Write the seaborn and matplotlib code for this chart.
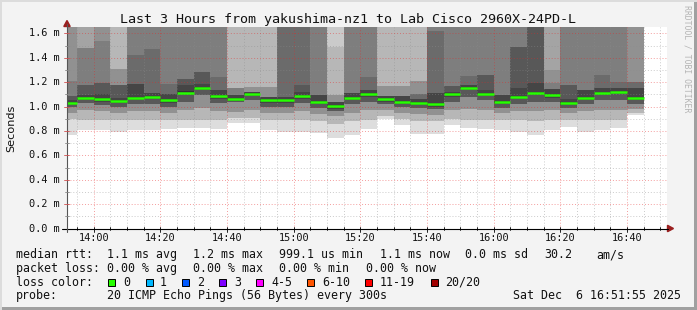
import numpy as np
import pandas as pd
import matplotlib
matplotlib.use("Agg")
import matplotlib.pyplot as plt
import seaborn as sns
from matplotlib.lines import Line2D
from matplotlib.patches import Rectangle, Polygon

# ---------------- data ----------------
# end time of each 5-minute bin (rrd step 300s)
bin_end = ["13:55", "14:00", "14:05", "14:10", "14:15", "14:20", "14:25", "14:30",
           "14:35", "14:40", "14:45", "14:50", "14:55", "15:00", "15:05", "15:10",
           "15:15", "15:20", "15:25", "15:30", "15:35", "15:40", "15:45", "15:50",
           "15:55", "16:00", "16:05", "16:10", "16:15", "16:20", "16:25", "16:30",
           "16:35", "16:40", "16:45"]

# median rtt (ms) per bin
median_ms = [1.031, 1.070, 1.061, 1.048, 1.070, 1.078, 1.053, 1.113, 1.152, 1.086,
             1.061, 1.105, 1.053, 1.053, 1.086, 1.039, 1.004, 1.070, 1.102, 1.061,
             1.039, 1.031, 1.020, 1.102, 1.152, 1.105, 1.039, 1.078, 1.113, 1.094,
             1.031, 1.070, 1.113, 1.121, 1.070]

# 20 sorted ping rtts (ms) per bin (values above the chart top written as 1.9)
pings_sorted = [
    [0.766, 0.90, 0.90, 0.95, 0.95, 0.998, 0.998, 0.998, 1.011, 1.023, 1.039, 1.05, 1.086, 1.086, 1.209, 1.9, 1.9, 1.9, 1.9, 1.9],
    [0.807, 0.89, 0.89, 0.97, 0.97, 1.026, 1.026, 1.026, 1.05, 1.062, 1.078, 1.094, 1.176, 1.176, 1.482, 1.482, 1.9, 1.9, 1.9, 1.9],
    [0.807, 0.89, 0.89, 0.96, 0.96, 1.01, 1.01, 1.01, 1.041, 1.053, 1.069, 1.10, 1.195, 1.195, 1.537, 1.9, 1.9, 1.9, 1.9, 1.9],
    [0.793, 0.89, 0.89, 0.95, 0.95, 1.0, 1.0, 1.0, 1.028, 1.040, 1.056, 1.07, 1.176, 1.176, 1.176, 1.307, 1.307, 1.9, 1.9, 1.9],
    [0.807, 0.89, 0.89, 0.96, 0.96, 1.02, 1.02, 1.02, 1.05, 1.062, 1.078, 1.184, 1.184, 1.422, 1.9, 1.9, 1.9, 1.9, 1.9, 1.9],
    [0.807, 0.89, 0.89, 0.96, 0.96, 1.02, 1.02, 1.02, 1.058, 1.070, 1.086, 1.113, 1.113, 1.471, 1.9, 1.9, 1.9, 1.9, 1.9, 1.9],
    [0.816, 0.89, 0.89, 0.95, 0.95, 1.0, 1.0, 1.0, 1.033, 1.045, 1.061, 1.10, 1.10, 1.184, 1.9, 1.9, 1.9, 1.9, 1.9, 1.9],
    [0.824, 0.89, 0.89, 0.97, 0.97, 1.04, 1.04, 1.04, 1.093, 1.105, 1.127, 1.174, 1.223, 1.223, 1.9, 1.9, 1.9, 1.9, 1.9, 1.9],
    [0.824, 0.889, 0.889, 0.985, 0.985, 1.094, 1.094, 1.094, 1.132, 1.144, 1.162, 1.184, 1.285, 1.285, 1.9, 1.9, 1.9, 1.9, 1.9, 1.9],
    [0.816, 0.89, 0.89, 0.96, 0.96, 1.03, 1.03, 1.03, 1.066, 1.078, 1.094, 1.135, 1.135, 1.244, 1.9, 1.9, 1.9, 1.9, 1.9, 1.9],
    [0.867, 0.903, 0.903, 0.957, 0.957, 1.039, 1.039, 1.039, 1.045, 1.053, 1.069, 1.094, 1.094, 1.094, 1.149, 1.149, 1.149, 1.9, 1.9, 1.9],
    [0.867, 0.905, 0.905, 0.97, 0.97, 1.05, 1.05, 1.05, 1.085, 1.097, 1.113, 1.121, 1.121, 1.121, 1.121, 1.162, 1.162, 1.9, 1.9, 1.9],
    [0.807, 0.89, 0.89, 0.95, 0.95, 1.0, 1.0, 1.0, 1.033, 1.045, 1.061, 1.08, 1.08, 1.08, 1.08, 1.162, 1.162, 1.9, 1.9, 1.9],
    [0.793, 0.89, 0.89, 0.95, 0.95, 1.0, 1.0, 1.0, 1.033, 1.045, 1.061, 1.08, 1.08, 1.9, 1.9, 1.9, 1.9, 1.9, 1.9, 1.9],
    [0.793, 0.89, 0.89, 0.96, 0.96, 1.03, 1.03, 1.03, 1.066, 1.078, 1.094, 1.121, 1.176, 1.9, 1.9, 1.9, 1.9, 1.9, 1.9, 1.9],
    [0.783, 0.88, 0.88, 0.94, 0.94, 0.99, 0.99, 0.99, 1.019, 1.031, 1.047, 1.094, 1.094, 1.094, 1.9, 1.9, 1.9, 1.9, 1.9, 1.9],
    [0.742, 0.86, 0.86, 0.92, 0.92, 0.96, 0.96, 0.96, 0.984, 0.996, 1.012, 1.039, 1.039, 1.039, 1.039, 1.094, 1.094, 1.49, 1.9, 1.9],
    [0.766, 0.88, 0.88, 0.95, 0.95, 1.02, 1.02, 1.02, 1.05, 1.062, 1.078, 1.113, 1.113, 1.113, 1.9, 1.9, 1.9, 1.9, 1.9, 1.9],
    [0.816, 0.89, 0.89, 0.97, 0.97, 1.04, 1.04, 1.04, 1.082, 1.094, 1.11, 1.135, 1.135, 1.244, 1.9, 1.9, 1.9, 1.9, 1.9, 1.9],
    [0.900, 0.92, 0.92, 0.97, 0.97, 1.02, 1.02, 1.02, 1.041, 1.053, 1.069, 1.086, 1.086, 1.086, 1.086, 1.168, 1.168, 1.9, 1.9, 1.9],
    [0.848, 0.90, 0.90, 0.95, 0.95, 1.0, 1.0, 1.0, 1.019, 1.031, 1.047, 1.086, 1.086, 1.086, 1.086, 1.168, 1.168, 1.9, 1.9, 1.9],
    [0.775, 0.88, 0.88, 0.94, 0.94, 0.99, 0.99, 0.99, 1.011, 1.023, 1.039, 1.06, 1.06, 1.10, 1.10, 1.209, 1.209, 1.9, 1.9, 1.9],
    [0.775, 0.88, 0.88, 0.93, 0.93, 0.98, 0.98, 0.98, 1.0, 1.012, 1.028, 1.113, 1.113, 1.62, 1.9, 1.9, 1.9, 1.9, 1.9, 1.9],
    [0.851, 0.90, 0.90, 0.97, 0.97, 1.04, 1.04, 1.04, 1.082, 1.094, 1.11, 1.12, 1.168, 1.168, 1.9, 1.9, 1.9, 1.9, 1.9, 1.9],
    [0.826, 0.89, 0.89, 0.98, 0.98, 1.08, 1.08, 1.08, 1.132, 1.144, 1.16, 1.18, 1.18, 1.25, 1.9, 1.9, 1.9, 1.9, 1.9, 1.9],
    [0.816, 0.89, 0.89, 0.97, 0.97, 1.05, 1.05, 1.05, 1.085, 1.097, 1.113, 1.135, 1.258, 1.258, 1.9, 1.9, 1.9, 1.9, 1.9, 1.9],
    [0.807, 0.89, 0.89, 0.95, 0.95, 0.99, 0.99, 0.99, 1.019, 1.031, 1.047, 1.094, 1.094, 1.094, 1.9, 1.9, 1.9, 1.9, 1.9, 1.9],
    [0.793, 0.89, 0.89, 0.96, 0.96, 1.02, 1.02, 1.02, 1.058, 1.070, 1.086, 1.149, 1.49, 1.49, 1.9, 1.9, 1.9, 1.9, 1.9, 1.9],
    [0.766, 0.88, 0.88, 0.96, 0.96, 1.04, 1.04, 1.04, 1.093, 1.105, 1.121, 1.19, 1.9, 1.9, 1.9, 1.9, 1.9, 1.9, 1.9, 1.9],
    [0.807, 0.89, 0.89, 0.97, 0.97, 1.04, 1.04, 1.04, 1.074, 1.086, 1.102, 1.14, 1.14, 1.14, 1.19, 1.299, 1.9, 1.9, 1.9, 1.9],
    [0.830, 0.89, 0.89, 0.95, 0.95, 0.99, 0.99, 0.99, 1.011, 1.023, 1.039, 1.06, 1.176, 1.176, 1.9, 1.9, 1.9, 1.9, 1.9, 1.9],
    [0.793, 0.89, 0.89, 0.96, 0.96, 1.02, 1.02, 1.02, 1.05, 1.062, 1.078, 1.135, 1.135, 1.135, 1.9, 1.9, 1.9, 1.9, 1.9, 1.9],
    [0.807, 0.89, 0.89, 0.97, 0.97, 1.05, 1.05, 1.05, 1.093, 1.105, 1.121, 1.149, 1.149, 1.258, 1.9, 1.9, 1.9, 1.9, 1.9, 1.9],
    [0.824, 0.89, 0.89, 0.97, 0.97, 1.05, 1.05, 1.05, 1.101, 1.113, 1.129, 1.15, 1.15, 1.203, 1.9, 1.9, 1.9, 1.9, 1.9, 1.9],
    [0.930, 0.95, 0.95, 0.98, 0.98, 1.02, 1.02, 1.02, 1.05, 1.062, 1.078, 1.149, 1.149, 1.203, 1.203, 1.9, 1.9, 1.9, 1.9, 1.9],
]

x_tick_labels = ["14:00", "14:20", "14:40", "15:00", "15:20", "15:40", "16:00", "16:20", "16:40"]
y_tick_values = [0.0, 0.2, 0.4, 0.6, 0.8, 1.0, 1.2, 1.4, 1.6]

loss_labels = ["0", "1", "2", "3", "4-5", "6-10", "11-19", "20/20"]
loss_colors = ["#26ff00", "#00b8ff", "#0059ff", "#7e00ff", "#ff00ff", "#ff5500", "#ff0000", "#a10000"]

title = "Last 3 Hours from yakushima-nz1 to Lab Cisco 2960X-24PD-L"
stat_rtt = ["median rtt:", "1.1 ms avg", "1.2 ms max", "999.1 us min", "1.1 ms now", "0.0 ms sd", "30.2", "am/s"]
stat_loss = ["packet loss:", "0.00 % avg", "0.00 % max", "0.00 % min", "0.00 % now"]
probe_text = ["probe:", "20 ICMP Echo Pings (56 Bytes) every 300s", "Sat Dec  6 16:51:55 2025"]

# ---------------- layout helpers ----------------
W, H = 697, 310
def fx(x):
    return x / W
def fy(y):
    return 1 - y / H

def to_min(s):
    h, m = map(int, s.split(":"))
    return (h - 14) * 60 + m

X0, X1 = -8, 172          # 13:52 .. 16:52 in minutes from 14:00
Y0, Y1 = 0.0, 1.65
PL, PR, PB, PT = 67, 667, 228.5, 27.3
def px_x(t):
    return PL + (t - X0) * (PR - PL) / (X1 - X0)
def px_y(v):
    return PB - (v - Y0) * (PB - PT) / (Y1 - Y0)

MONO = "DejaVu Sans Mono"

sns.set_style("white")
plt.rcParams["font.family"] = ["DejaVu Sans"]

fig = plt.figure(figsize=(W / 100, H / 100), dpi=100, facecolor="#f3f3f3")
ax = fig.add_axes([fx(PL), 1 - PB / H, (PR - PL) / W, (PB - PT) / H])
ax.set_facecolor("white")
ax.set_xlim(X0, X1)
ax.set_ylim(Y0, Y1)

# ---------------- smoke ----------------
ends = np.array([to_min(s) for s in bin_end], dtype=float)
starts = ends - 5
P = np.array(pings_sorted)
n = P.shape[1]
half = n // 2
for i in range(1, half + 1):
    g = int(190 / half * (half - i)) + 50
    col = "#%02x%02x%02x" % (g, g, g)
    lo = P[:, i - 1]
    hi = P[:, n - i]
    ax.bar(starts, hi - lo, bottom=lo, width=5, align="edge", color=col,
           linewidth=0, zorder=1)

# ---------------- grid ----------------
for t in np.arange(-5, X1, 5):
    if t % 20 == 0:
        continue
    ax.axvline(t, color=(0.55, 0.55, 0.55, 0.45), lw=0.7, ls=(0, (1, 2)), zorder=3)
for v in np.arange(0.1, 1.65, 0.2):
    ax.axhline(v, color=(0.55, 0.55, 0.55, 0.45), lw=0.7, ls=(0, (1, 2)), zorder=3)
for t in range(0, 161, 20):
    ax.axvline(t, color=(0.9, 0.15, 0.15, 0.45), lw=0.7, ls=(0, (1, 2)), zorder=3)
for v in y_tick_values[1:]:
    ax.axhline(v, color=(0.9, 0.15, 0.15, 0.45), lw=0.7, ls=(0, (1, 2)), zorder=3)

# ---------------- median line ----------------
rows = []
for k, (s, e, m) in enumerate(zip(starts, ends, median_ms)):
    rows.append({"seg": k, "t": s, "v": m})
    rows.append({"seg": k, "t": e, "v": m})
mdf = pd.DataFrame(rows)
sns.lineplot(data=mdf, x="t", y="v", units="seg", estimator=None, color="#26ff00",
             lw=1.8, ax=ax, legend=False, zorder=5, solid_capstyle="butt")

ax.set_xlabel("")
ax.set_ylabel("")
ax.set_xticks([])
ax.set_yticks([])
for sp in ax.spines.values():
    sp.set_visible(False)

# ---------------- axes lines, ticks, arrows ----------------
fig.add_artist(Line2D([fx(62), fx(668)], [fy(PB), fy(PB)], color="black", lw=0.8))
fig.add_artist(Line2D([fx(PL), fx(PL)], [fy(232), fy(24)], color="#555555", lw=0.8))
fig.add_artist(Polygon([[fx(673.5), fy(PB)], [fx(667.5), fy(PB - 3.2)], [fx(667.5), fy(PB + 3.2)]],
                       closed=True, color="#9a1f1f"))
fig.add_artist(Polygon([[fx(PL), fy(20.5)], [fx(PL - 3.2), fy(26.5)], [fx(PL + 3.2), fy(26.5)]],
                       closed=True, color="#9a1f1f"))

for t in np.arange(-5, X1, 5):
    x = px_x(t)
    L = 3 if t % 20 == 0 else 1.8
    fig.add_artist(Line2D([fx(x), fx(x)], [fy(PB - 1.5), fy(PB + L)], color="black", lw=0.6))
for v in np.arange(0.1, 1.65, 0.1):
    y = px_y(v)
    major = abs((v * 10) % 2) < 1e-6 or abs((v * 10) % 2 - 2) < 1e-6
    L = 3 if major else 1.8
    col = "#d05050" if major else "#888888"
    fig.add_artist(Line2D([fx(PL - L), fx(PL + 2)], [fy(y), fy(y)], color=col, lw=0.6))

# tick labels
for lab in x_tick_labels:
    t = to_min(lab)
    fig.text(fx(px_x(t)), fy(241), lab, family=MONO, fontsize=7.4, ha="center",
             va="baseline", color="#111111")
for v in y_tick_values:
    fig.text(fx(60), fy(px_y(v)), f"{v:.1f} m", family=MONO, fontsize=7.4, ha="right",
             va="center", color="#111111")

fig.text(fx(11), fy(128), "Seconds", fontsize=8.1, rotation=90, ha="center", va="center",
         color="#111111")
fig.text(fx(348), fy(23), title, family=MONO, fontsize=9.6, ha="center", va="baseline",
         color="#111111")
fig.text(fx(687), fy(5), "RRDTOOL / TOBI OETIKER", family=MONO, fontsize=5.9,
         rotation=-90, ha="center", va="top", color="#b4b4b4")

# ---------------- legend block ----------------
LFS = 8.4
for s, x in zip(stat_rtt, [16, 107, 193, 279, 380, 465, 544, 596]):
    fig.text(fx(x), fy(258.3), s, family=MONO, fontsize=LFS, ha="left", va="baseline", color="#111111")
for s, x in zip(stat_loss, [16, 107, 193, 279, 366]):
    fig.text(fx(x), fy(272), s, family=MONO, fontsize=LFS, ha="left", va="baseline", color="#111111")
fig.text(fx(16), fy(285.8), "loss color:", family=MONO, fontsize=LFS, ha="left", va="baseline", color="#111111")
sq_x = [108, 146, 182, 219, 256, 307, 365, 431]
lab_x = [123, 160, 197, 234, 271, 322, 380, 445]
for lab, col, sx, lx in zip(loss_labels, loss_colors, sq_x, lab_x):
    fig.add_artist(Rectangle((fx(sx), fy(286)), 7 / W, 7 / H, facecolor=col,
                             edgecolor="black", lw=0.7))
    fig.text(fx(lx), fy(285.8), lab, family=MONO, fontsize=LFS, ha="left", va="baseline", color="#111111")
for s, x in zip(probe_text, [16, 107, 513]):
    fig.text(fx(x), fy(299.4), s, family=MONO, fontsize=LFS, ha="left", va="baseline", color="#111111")

# ---------------- frame shading ----------------
fig.add_artist(Rectangle((fx(694), 0), 3 / W, 1, facecolor="#a0a0a0", edgecolor="none"))
fig.add_artist(Rectangle((0, 0), 1, 3 / H, facecolor="#a0a0a0", edgecolor="none"))
fig.add_artist(Rectangle((0, 0), 2 / W, 1, facecolor="#dcdcdc", edgecolor="none"))
fig.add_artist(Rectangle((0, fy(2)), 1, 2 / H, facecolor="#dcdcdc", edgecolor="none"))

fig.savefig("out.png", dpi=100, facecolor=fig.get_facecolor())
